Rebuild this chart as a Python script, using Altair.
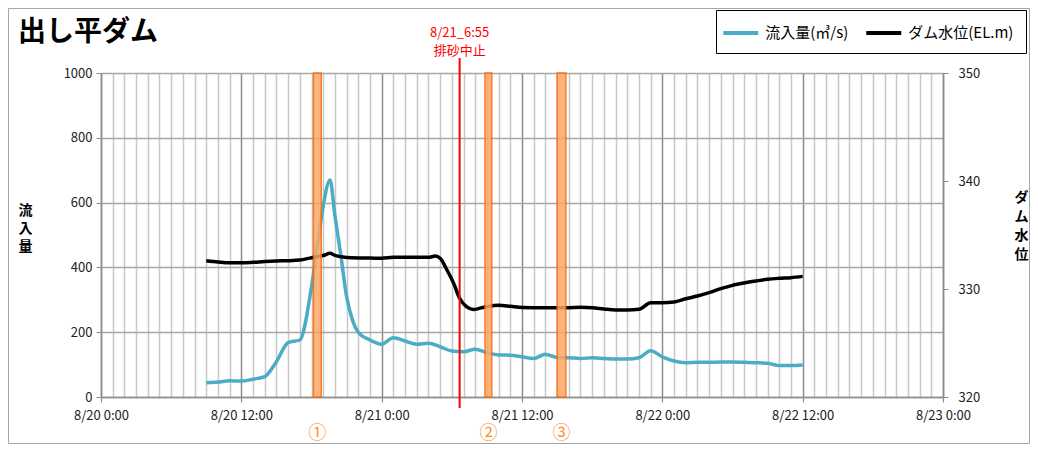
import altair as alt
import pandas as pd

FONT = "Noto Sans CJK JP"

chart_title = "出し平ダム"
inflow_name = "流入量(㎥/s)"
level_name = "ダム水位(EL.m)"

inflow_times = [
    "2018-08-20T09:00", "2018-08-20T10:00", "2018-08-20T11:00", "2018-08-20T12:00",
    "2018-08-20T13:00", "2018-08-20T14:00", "2018-08-20T15:00", "2018-08-20T16:00",
    "2018-08-20T17:00", "2018-08-20T18:00", "2018-08-20T18:30", "2018-08-20T19:00",
    "2018-08-20T19:35", "2018-08-20T20:00", "2018-08-20T20:30", "2018-08-20T21:00",
    "2018-08-20T21:30", "2018-08-20T22:00", "2018-08-20T23:00",
    "2018-08-21T00:00", "2018-08-21T01:00", "2018-08-21T02:00", "2018-08-21T03:00",
    "2018-08-21T04:00", "2018-08-21T05:00", "2018-08-21T06:00", "2018-08-21T07:00",
    "2018-08-21T08:00", "2018-08-21T09:00", "2018-08-21T10:00", "2018-08-21T11:00",
    "2018-08-21T12:00", "2018-08-21T13:00", "2018-08-21T14:00", "2018-08-21T15:00",
    "2018-08-21T16:00", "2018-08-21T17:00", "2018-08-21T18:00", "2018-08-21T19:00",
    "2018-08-21T20:00", "2018-08-21T21:00", "2018-08-21T22:00", "2018-08-21T23:00",
    "2018-08-22T00:00", "2018-08-22T01:00", "2018-08-22T02:00", "2018-08-22T03:00",
    "2018-08-22T04:00", "2018-08-22T05:00", "2018-08-22T06:00", "2018-08-22T07:00",
    "2018-08-22T08:00", "2018-08-22T09:00", "2018-08-22T10:00", "2018-08-22T11:00",
    "2018-08-22T12:00",
]
inflow_values = [
    44, 46, 50, 49,
    55, 63, 109, 168,
    176, 340, 465, 590,
    670, 560, 440, 310,
    238, 200, 176,
    163, 183, 173, 163,
    166, 155, 142, 140,
    147, 137, 130, 129,
    124, 119, 132, 122,
    121, 119, 121, 119,
    117, 117, 121, 143,
    124, 111, 106, 107,
    107, 108, 108, 107,
    106, 104, 97, 97,
    99,
]

level_times = [
    "2018-08-20T09:00", "2018-08-20T10:00", "2018-08-20T11:00", "2018-08-20T12:00",
    "2018-08-20T13:00", "2018-08-20T14:00", "2018-08-20T15:00", "2018-08-20T16:00",
    "2018-08-20T17:00", "2018-08-20T18:00", "2018-08-20T18:30", "2018-08-20T19:00",
    "2018-08-20T19:35", "2018-08-20T20:00", "2018-08-20T21:00", "2018-08-20T22:00",
    "2018-08-20T23:00",
    "2018-08-21T00:00", "2018-08-21T01:00", "2018-08-21T02:00", "2018-08-21T03:00",
    "2018-08-21T04:00", "2018-08-21T04:35", "2018-08-21T05:00", "2018-08-21T05:35",
    "2018-08-21T06:10", "2018-08-21T06:40", "2018-08-21T07:15", "2018-08-21T07:50",
    "2018-08-21T08:30", "2018-08-21T09:00", "2018-08-21T10:00", "2018-08-21T11:00",
    "2018-08-21T12:00", "2018-08-21T13:00", "2018-08-21T14:00", "2018-08-21T15:00",
    "2018-08-21T16:00", "2018-08-21T17:00", "2018-08-21T18:00", "2018-08-21T19:00",
    "2018-08-21T20:00", "2018-08-21T21:00", "2018-08-21T22:00", "2018-08-21T23:00",
    "2018-08-22T00:00", "2018-08-22T01:00", "2018-08-22T02:00", "2018-08-22T03:00",
    "2018-08-22T04:00", "2018-08-22T05:00", "2018-08-22T06:00", "2018-08-22T07:00",
    "2018-08-22T08:00", "2018-08-22T09:00", "2018-08-22T10:00", "2018-08-22T11:00",
    "2018-08-22T12:00",
]
level_values = [
    332.62, 332.50, 332.42, 332.42,
    332.47, 332.55, 332.60, 332.62,
    332.68, 332.90, 333.00, 333.10,
    333.30, 333.12, 332.92, 332.87,
    332.86,
    332.84, 332.93, 332.93, 332.93,
    332.93, 333.05, 332.84, 331.76,
    330.50, 329.14, 328.36, 328.10,
    328.25, 328.36, 328.49, 328.40,
    328.28, 328.27, 328.27, 328.27,
    328.27, 328.30, 328.27, 328.15,
    328.06, 328.06, 328.12, 328.73,
    328.73, 328.80, 329.10, 329.35,
    329.66, 330.03, 330.34, 330.56,
    330.74, 330.90, 330.99, 331.05,
    331.17,
]

band_starts = ["2018-08-20T18:10", "2018-08-21T08:50", "2018-08-21T15:00"]
band_ends = ["2018-08-20T18:50", "2018-08-21T09:25", "2018-08-21T15:45"]
band_labels = ["①", "②", "③"]

stop_time = "2018-08-21T06:40"
stop_label = ["8/21_6:55", "排砂中止"]

left_ticks = [0, 200, 400, 600, 800, 1000]
right_ticks = [320, 330, 340, 350]

# ---------------------------------------------------------------
W, H = 842, 324

def dt(h):
    return alt.DateTime(year=2018, month=8, date=20 + h // 24, hours=h % 24)

x_scale = alt.Scale(domain=[dt(0), dt(72)])
major_vals = [dt(h) for h in range(0, 73, 12)]
minor_vals = [dt(h) for h in range(0, 73) if h % 12]

inflow_df = pd.DataFrame({"time": inflow_times, "value": inflow_values, "series": inflow_name})
level_df = pd.DataFrame({"time": level_times, "value": level_values, "series": level_name})

s = pd.to_datetime(pd.Series(band_starts))
e = pd.to_datetime(pd.Series(band_ends))
mids = (s + (e - s) / 2).dt.strftime("%Y-%m-%dT%H:%M:%S")
bands_df = pd.DataFrame({"start": band_starts, "end": band_ends, "mid": mids, "label": band_labels})
stop_df = pd.DataFrame({"time": [stop_time]})

color_scale = alt.Scale(domain=[inflow_name, level_name], range=["#4BACC6", "#000000"])
legend = alt.Legend(
    orient="none", legendX=615, legendY=-63, direction="horizontal", title=None,
    strokeColor="#000000", fillColor="#ffffff", padding=12,
    symbolType="M-2,0H2", symbolSize=306, symbolOffset=1.75, symbolStrokeWidth=4,
    labelOffset=13.5, labelFontSize=15, labelFont=FONT, labelColor="#000000",
    columnPadding=9,
)

GRID_MAJOR = "#8c8c8c"

border = alt.Chart(pd.DataFrame({"a": [0]})).mark_rect(
    fill="transparent", stroke="#a6a6a6", strokeWidth=1
).encode(
    x=alt.value(-92.5), x2=alt.value(928.5), y=alt.value(-64.5), y2=alt.value(370.5)
)

inflow = alt.Chart(inflow_df).mark_line(strokeWidth=3.5, interpolate="monotone").encode(
    x=alt.X("time:T", scale=x_scale, axis=alt.Axis(
        values=major_vals, format="%-m/%-d %-H:%M", title=None,
        grid=True, gridColor=GRID_MAJOR, gridWidth=1.5,
        tickSize=5, tickColor=GRID_MAJOR, tickWidth=1.2,
        domainColor=GRID_MAJOR, domainWidth=1.5,
        labelFontSize=13, labelFont=FONT, labelColor="#222222", labelPadding=7,
        labelFlush=False)),
    y=alt.Y("value:Q", scale=alt.Scale(domain=[0, 1000]), axis=alt.Axis(
        values=left_ticks, format="d",
        title=["流", "入", "量"], titleAngle=0, titleX=-76, titleY=130,
        titleBaseline="top", titleAlign="center", titleFontSize=14, titleFontWeight="bold",
        titleFont=FONT, titleLineHeight=18, titleColor="#000000",
        grid=True, gridColor="#a6a6a6", gridWidth=1.3,
        tickSize=5, tickColor=GRID_MAJOR, domainColor=GRID_MAJOR, domainWidth=1.5,
        labelFontSize=13, labelFont=FONT, labelColor="#222222", labelPadding=4)),
    color=alt.Color("series:N", scale=color_scale, legend=legend),
)

level = alt.Chart(level_df).mark_line(strokeWidth=3.5, interpolate="monotone").encode(
    x=alt.X("time:T", scale=x_scale, axis=None),
    y=alt.Y("value:Q", scale=alt.Scale(domain=[320, 350]), axis=alt.Axis(
        orient="right", values=right_ticks, format="d",
        title=["ダ", "ム", "水", "位"], titleAngle=0, titleX=78, titleY=117,
        titleBaseline="top", titleAlign="center", titleFontSize=14, titleFontWeight="bold",
        titleFont=FONT, titleLineHeight=19, titleColor="#000000",
        grid=False, tickSize=5, tickColor=GRID_MAJOR, domainColor=GRID_MAJOR, domainWidth=1.5,
        labelFontSize=13, labelFont=FONT, labelColor="#222222", labelPadding=10)),
    color=alt.Color("series:N", scale=color_scale, legend=legend),
)

bands = alt.Chart(bands_df).mark_rect(
    fill="#FBA868", opacity=0.85, stroke="#FF6600", strokeWidth=1.5
).encode(
    x=alt.X("start:T", scale=x_scale, axis=alt.Axis(
        values=minor_vals, title=None, grid=True, gridColor="#c8c8c8", gridWidth=1.5,
        labels=False, ticks=False, domain=False)),
    x2="end:T",
    y=alt.value(0), y2=alt.value(H),
)

band_text = alt.Chart(bands_df).mark_text(
    color="#FF8C28", fontSize=18, font=FONT, baseline="middle", align="center"
).encode(
    x=alt.X("mid:T", scale=x_scale, axis=None),
    y=alt.value(361),
    text="label:N",
)

rule = alt.Chart(stop_df).mark_rule(color="#FF0000", strokeWidth=2).encode(
    x=alt.X("time:T", scale=x_scale, axis=None),
    y=alt.value(-15), y2=alt.value(H + 11),
)

stop_text = alt.Chart(stop_df).mark_text(
    text=stop_label, color="#FF0000", fontSize=13, font=FONT, lineHeight=18,
    baseline="middle", align="center"
).encode(
    x=alt.X("time:T", scale=x_scale, axis=None),
    y=alt.value(-40),
)

title = alt.Chart(pd.DataFrame({"t": [chart_title]})).mark_text(
    align="left", baseline="middle", fontSize=28, fontWeight="bold", font=FONT, color="#000000"
).encode(
    x=alt.value(-83), y=alt.value(-40), text="t:N"
)

chart = alt.layer(
    border, inflow, level, bands, rule, stop_text, band_text, title
).resolve_scale(
    y="independent"
).resolve_axis(
    x="independent", y="independent"
).properties(
    width=W, height=H,
    autosize=alt.AutoSizeParams(type="none"),
    padding={"left": 93, "top": 65, "right": 87, "bottom": 47},
    background="#ffffff",
).configure_view(stroke="transparent")

chart.save("out.html", embed_options={"renderer": "svg", "actions": False})
